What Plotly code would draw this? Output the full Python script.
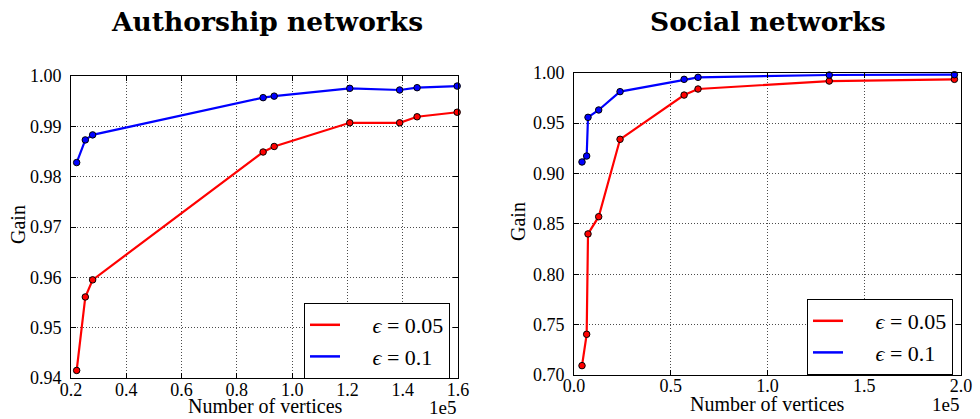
import plotly.graph_objects as go

# Authorship networks: vertex counts (x1e5) and gain
auth_vertices = [0.2205, 0.2518, 0.2783, 0.895, 0.935, 1.2084, 1.389, 1.452, 1.597]
auth_gain_005 = [0.9415, 0.9561, 0.9595, 0.9849, 0.9860, 0.9907, 0.9907, 0.9919, 0.9928]
auth_gain_01 = [0.9828, 0.9873, 0.9883, 0.9957, 0.9960, 0.99755, 0.99722, 0.99768, 0.9980]

# Social networks: vertex counts (x1e5) and gain
soc_vertices = [0.0414, 0.0655, 0.0724, 0.1276, 0.238, 0.569, 0.641, 1.319, 1.966]
soc_gain_005 = [0.7093, 0.7404, 0.840, 0.8571, 0.9339, 0.9778, 0.9838, 0.9917, 0.9934]
soc_gain_01 = [0.9114, 0.9173, 0.9557, 0.963, 0.9812, 0.9934, 0.9954, 0.9977, 0.998]

series_labels = ["<i>ϵ</i> = 0.05", "<i>ϵ</i> = 0.1"]
series_colors = ["#ff0000", "#0000ff"]

auth_xticks = [0.2, 0.4, 0.6, 0.8, 1.0, 1.2, 1.4, 1.6]
auth_yticks = [0.94, 0.95, 0.96, 0.97, 0.98, 0.99, 1.00]
soc_xticks = [0.0, 0.5, 1.0, 1.5, 2.0]
soc_yticks = [0.70, 0.75, 0.80, 0.85, 0.90, 0.95, 1.00]

W, H = 980, 419
SERIF = "Liberation Serif"
PAD = "\u00a0" * 5


def px_x(p):
    return p / W


def px_y(p):
    return (H - p) / H


fig = go.Figure()

panels = [
    dict(xa="x", ya="y", legend="legend", vx=auth_vertices,
         ys=[auth_gain_005, auth_gain_01]),
    dict(xa="x2", ya="y2", legend="legend2", vx=soc_vertices,
         ys=[soc_gain_005, soc_gain_01]),
]

for p in panels:
    for ys, name, col in zip(p["ys"], series_labels, series_colors):
        fig.add_trace(go.Scatter(
            x=p["vx"], y=ys, mode="lines+markers", name=name,
            xaxis=p["xa"], yaxis=p["ya"], showlegend=False,
            line=dict(color=col, width=2.2),
            marker=dict(color=col, size=6.5, line=dict(color="black", width=1)),
            cliponaxis=False,
        ))
    # legend entries show the line only
    for name, col in zip(series_labels, series_colors):
        fig.add_trace(go.Scatter(
            x=[None], y=[None], mode="lines", name=PAD + name,
            xaxis=p["xa"], yaxis=p["ya"], legend=p["legend"],
            line=dict(color=col, width=2.5),
        ))

axis_common = dict(
    showline=True, linecolor="black", linewidth=1, mirror="allticks",
    ticks="inside", ticklen=5, tickcolor="black",
    showgrid=True, gridcolor="rgba(0,0,0,0.7)", gridwidth=1, griddash="1px,2px",
    zeroline=False,
    tickfont=dict(family=SERIF, size=18, color="black"),
)

legend_common = dict(
    xanchor="left", yanchor="top",
    bgcolor="white", bordercolor="black", borderwidth=1,
    font=dict(family=SERIF, size=22, color="black"),
    tracegroupgap=2,
)

fig.update_layout(
    width=W, height=H,
    margin=dict(l=0, r=0, t=0, b=0, autoexpand=False),
    paper_bgcolor="white", plot_bgcolor="white",
    xaxis=dict(domain=[px_x(71), px_x(458)], range=[0.2, 1.6],
               tickvals=auth_xticks, ticktext=[f"{v:.1f}" for v in auth_xticks],
               anchor="y", ticklabelstandoff=-5, **axis_common),
    yaxis=dict(domain=[px_y(378), px_y(76)], range=[0.94, 1.00],
               tickvals=auth_yticks, ticktext=[f"{v:.2f}" for v in auth_yticks],
               anchor="x", ticklabelstandoff=5, **axis_common),
    xaxis2=dict(domain=[px_x(574), px_x(961)], range=[0.0, 2.0],
                tickvals=soc_xticks, ticktext=[f"{v:.1f}" for v in soc_xticks],
                anchor="y2", ticklabelstandoff=-6, **axis_common),
    yaxis2=dict(domain=[px_y(375), px_y(72.7)], range=[0.70, 1.00],
                tickvals=soc_yticks, ticktext=[f"{v:.2f}" for v in soc_yticks],
                anchor="x2", ticklabelstandoff=5, **axis_common),
    legend=dict(x=px_x(304), y=px_y(303), **legend_common),
    legend2=dict(x=px_x(807), y=px_y(299), **legend_common),
    showlegend=True,
)

annots = [
    ("<b>Authorship networks</b>", 267, 22, 0, "title"),
    ("<b>Social networks</b>", 768, 22, 0, "title"),
    ("Number of vertices", 265, 406, 0, "label"),
    ("Number of vertices", 767, 404, 0, "label"),
    ("Gain", 18, 225, -90, "label"),
    ("Gain", 518, 222, -90, "label"),
    ("1e5", 458, 407, 0, "exp"),
    ("1e5", 961, 404, 0, "exp"),
]
fonts = {
    "title": dict(family="DejaVu Serif", size=26.5, color="black"),
    "label": dict(family=SERIF, size=20, color="black"),
    "exp": dict(family=SERIF, size=19, color="black"),
}
for text, ax, ay, rot, kind in annots:
    fig.add_annotation(
        text=text, x=px_x(ax), y=px_y(ay), xref="paper", yref="paper",
        xanchor="right" if kind == "exp" else "center", yanchor="middle",
        textangle=rot, showarrow=False, font=fonts[kind],
    )

fig.write_html("out.html")
